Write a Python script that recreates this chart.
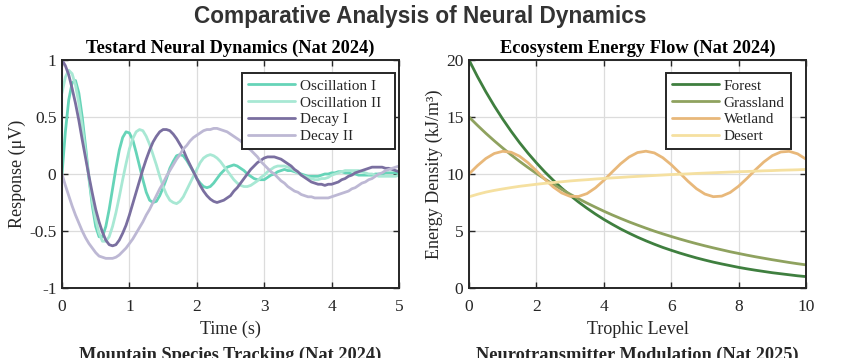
import numpy as np, pandas as pd, matplotlib
matplotlib.use('Agg')
import matplotlib.pyplot as plt, seaborn as sns

# ---------------- data ----------------
time_s = [0, .05, .1, .15, .2, .25, .3, .35, .4, .45, .5, .55, .6, .65, .7, .75, .8, .85, .9, .95,
          1, 1.05, 1.1, 1.15, 1.2, 1.25, 1.3, 1.35, 1.4, 1.45, 1.5, 1.55, 1.6, 1.65, 1.7, 1.75, 1.8, 1.85, 1.9, 1.95,
          2, 2.05, 2.1, 2.15, 2.2, 2.25, 2.3, 2.35, 2.4, 2.45, 2.5, 2.55, 2.6, 2.65, 2.7, 2.75, 2.8, 2.85, 2.9, 2.95,
          3, 3.05, 3.1, 3.15, 3.2, 3.25, 3.3, 3.35, 3.4, 3.45, 3.5, 3.55, 3.6, 3.65, 3.7, 3.75, 3.8, 3.85, 3.9, 3.95,
          4, 4.05, 4.1, 4.15, 4.2, 4.25, 4.3, 4.35, 4.4, 4.45, 4.5, 4.55, 4.6, 4.65, 4.7, 4.75, 4.8, 4.85, 4.9, 4.95,
          5]
oscillation_1 = [.00, .37, .65, .80, .82, .71, .50, .24, -.04, -.28, -.46, -.55, -.55, -.46, -.31, -.13, .05, .21, .32, .37,
                 .36, .30, .19, .07, -.05, -.16, -.23, -.25, -.24, -.19, -.12, -.04, .05, .11, .16, .17, .16, .12, .07, .02,
                 -.04, -.08, -.11, -.12, -.11, -.08, -.04, 0, .03, .06, .07, .08, .07, .05, .03, 0, -.02, -.04, -.05, -.05,
                 -.05, -.03, -.01, .00, .02, .03, .04, .03, .03, .02, .01, 0, -.01, -.02, -.02, -.02, -.02, -.01, 0, .00,
                 .01, .01, .02, .02, .01, .01, .00, 0, -.01, -.01, -.01, -.01, -.01, 0, 0, .00, .01, .01, .01, .01,
                 .01]
oscillation_2 = [.71, .85, .91, .88, .78, .62, .42, .19, -.03, -.24, -.40, -.52, -.59, -.59, -.55, -.46, -.34, -.20, -.05, .09,
                 .22, .31, .37, .39, .38, .33, .26, .17, .08, -.02, -.11, -.18, -.23, -.25, -.26, -.24, -.20, -.14, -.08, -.02,
                 .04, .10, .14, .16, .17, .16, .14, .11, .07, .03, -.01, -.05, -.08, -.10, -.11, -.11, -.10, -.08, -.06, -.03,
                 -.01, .02, .04, .06, .07, .07, .07, .06, .05, .03, .01, -.01, -.02, -.03, -.04, -.05, -.05, -.04, -.04, -.03,
                 -.01, 0, .01, .02, .03, .03, .03, .03, .03, .02, .01, .00, 0, -.01, -.02, -.02, -.02, -.02, -.02, -.02,
                 -.01]
decay_1 = [1.00, .95, .87, .75, .62, .47, .30, .14, -.02, -.17, -.31, -.42, -.51, -.58, -.62, -.63, -.62, -.58, -.52, -.45,
           -.36, -.26, -.16, -.06, .04, .13, .21, .28, .33, .37, .39, .39, .38, .35, .31, .26, .21, .14, .08, .02,
           -.04, -.10, -.15, -.19, -.22, -.24, -.25, -.24, -.23, -.21, -.19, -.15, -.12, -.08, -.04, 0, .04, .07, .10, .12,
           .14, .15, .15, .15, .14, .13, .11, .09, .07, .04, .02, -.01, -.03, -.05, -.07, -.08, -.09, -.09, -.10, -.09,
           -.09, -.08, -.07, -.05, -.04, -.02, -.01, .01, .02, .03, .04, .05, .06, .06, .06, .06, .05, .05, .04, .03,
           .02]
decay_2 = [0, -.10, -.19, -.28, -.36, -.43, -.50, -.56, -.61, -.65, -.69, -.72, -.73, -.74, -.74, -.74, -.73, -.71, -.68, -.65,
           -.61, -.57, -.52, -.47, -.42, -.36, -.31, -.25, -.19, -.13, -.08, -.02, .03, .08, .13, .17, .22, .25, .29, .32,
           .34, .36, .38, .39, .39, .40, .40, .39, .38, .37, .35, .33, .31, .29, .26, .23, .21, .18, .15, .11,
           .08, .05, .02, 0, -.03, -.06, -.08, -.11, -.13, -.15, -.16, -.18, -.19, -.20, -.20, -.21, -.21, -.21, -.21, -.21,
           -.20, -.19, -.18, -.17, -.16, -.15, -.13, -.12, -.10, -.08, -.07, -.05, -.04, -.02, 0, .01, .03, .04, .05, .06,
           .07]
neural_names = ['Oscillation I', 'Oscillation II', 'Decay I', 'Decay II']

trophic_level = [0, .25, .5, .75, 1, 1.25, 1.5, 1.75, 2, 2.25, 2.5, 2.75, 3, 3.25, 3.5, 3.75, 4, 4.25, 4.5, 4.75,
                 5, 5.25, 5.5, 5.75, 6, 6.25, 6.5, 6.75, 7, 7.25, 7.5, 7.75, 8, 8.25, 8.5, 8.75, 9, 9.25, 9.5, 9.75, 10]
forest = [20.00, 18.55, 17.21, 15.97, 14.82, 13.75, 12.75, 11.83, 10.98, 10.18, 9.45, 8.76, 8.13, 7.54, 7.00, 6.49, 6.02, 5.59, 5.18, 4.81,
          4.46, 4.14, 3.84, 3.56, 3.31, 3.07, 2.85, 2.64, 2.45, 2.27, 2.11, 1.96, 1.81, 1.68, 1.56, 1.45, 1.34, 1.25, 1.16, 1.07, 1.00]
grassland = [15.00, 14.27, 13.57, 12.91, 12.28, 11.68, 11.11, 10.57, 10.05, 9.56, 9.10, 8.65, 8.23, 7.83, 7.45, 7.09, 6.74, 6.41, 6.10, 5.80,
             5.52, 5.25, 4.99, 4.75, 4.52, 4.30, 4.09, 3.89, 3.70, 3.52, 3.35, 3.18, 3.03, 2.88, 2.74, 2.61, 2.48, 2.36, 2.24, 2.13, 2.03]
wetland = [10.00, 10.73, 11.36, 11.80, 11.99, 11.91, 11.56, 10.99, 10.28, 9.54, 8.86, 8.34, 8.04, 8.03, 8.28, 8.78, 9.44, 10.18, 10.90, 11.49,
           11.88, 12.00, 11.85, 11.43, 10.82, 10.10, 9.36, 8.71, 8.24, 8.01, 8.06, 8.38, 8.93, 9.62, 10.37, 11.06, 11.61, 11.93, 11.99, 11.77, 11.30]
desert = [8.00, 8.22, 8.41, 8.56, 8.69, 8.81, 8.92, 9.01, 9.10, 9.18, 9.25, 9.32, 9.39, 9.45, 9.50, 9.56, 9.61, 9.66, 9.70, 9.75,
          9.79, 9.83, 9.87, 9.91, 9.95, 9.98, 10.01, 10.05, 10.08, 10.11, 10.14, 10.17, 10.20, 10.22, 10.25, 10.28, 10.30, 10.33, 10.35, 10.37, 10.40]
eco_names = ['Forest', 'Grassland', 'Wetland', 'Desert']

neural_xticks = [0, 1, 2, 3, 4, 5]
neural_yticks = [-1, -0.5, 0, 0.5, 1]
eco_xticks = [0, 2, 4, 6, 8, 10]
eco_yticks = [0, 5, 10, 15, 20]

# ---------------- build tables ----------------
pad = '  '  # extra right padding inside the left legend
df1 = pd.concat([pd.DataFrame({'Time': time_s, 'Value': v, 'Series': n + pad})
                 for n, v in zip(neural_names, [oscillation_1, oscillation_2, decay_1, decay_2])])
df2 = pd.concat([pd.DataFrame({'Level': trophic_level, 'Value': v, 'Series': n})
                 for n, v in zip(eco_names, [forest, grassland, wetland, desert])])

sns.set_theme(style='white')
plt.rcParams['font.family'] = ['Liberation Serif', 'DejaVu Serif']
plt.rcParams['axes.unicode_minus'] = False

fig = plt.figure(figsize=(8.41, 3.58), dpi=100)
ax1 = fig.add_axes([62/841, 70/358, 337/841, 228/358])
ax2 = fig.add_axes([469/841, 70/358, 337/841, 228/358])

pal1 = ['#66d4b8', '#a8e8d4', '#7a6fa0', '#bdb8d4']
pal2 = ['#3f7f3f', '#8fa25f', '#e8b87a', '#f5e0a0']
sns.lineplot(data=df1, x='Time', y='Value', hue='Series', palette=pal1, linewidth=2, ax=ax1,
             estimator=None, sort=False)
sns.lineplot(data=df2, x='Level', y='Value', hue='Series', palette=pal2, linewidth=2, ax=ax2,
             estimator=None, sort=False)

dark = '#262626'
for ax, title, xl, yl, xlim, ylim, xt, yt, anchor in [
        (ax1, 'Testard Neural Dynamics (Nat 2024)', 'Time (s)', 'Response (μV)', (0, 5), (-1, 1),
         neural_xticks, neural_yticks, (0.988, 0.943)),
        (ax2, 'Ecosystem Energy Flow (Nat 2024)', 'Trophic Level', 'Energy Density (kJ/m³)', (0, 10), (0, 20),
         eco_xticks, eco_yticks, (0.955, 0.943))]:
    ax.set_xlim(*xlim); ax.set_ylim(*ylim)
    ax.set_xticks(xt); ax.set_yticks(yt)
    ax.set_yticklabels([f"{v:g}" for v in yt])
    ax.grid(True, color='#dcdcdc', linewidth=0.9)
    ax.set_axisbelow(True)
    for s in ax.spines.values():
        s.set_color(dark); s.set_linewidth(1.4)
    ax.tick_params(direction='in', length=4, width=1, top=True, right=True, bottom=True, left=True,
                   colors=dark, labelsize=12.5)
    ax.tick_params(axis='x', pad=8)
    ax.tick_params(axis='y', pad=4)
    ax.set_title(title, fontsize=13.2, fontweight='bold', pad=5, color='black')
    ax.set_xlabel(xl, fontsize=13, color=dark, labelpad=4)
    ax.set_ylabel(yl, fontsize=13, color=dark, labelpad=2)
    h, l = ax.get_legend_handles_labels()
    leg = ax.legend(h, l, loc='upper right', bbox_to_anchor=anchor, borderaxespad=0, fontsize=11,
                    frameon=True, fancybox=False, framealpha=1, edgecolor=dark, handlelength=3.1,
                    labelspacing=0.2, handletextpad=0.3, borderpad=0.4)
    leg.get_frame().set_linewidth(1.4)

fig.text(0.5, 1-16/358, 'Comparative Analysis of Neural Dynamics', ha='center', va='center',
         fontsize=16.3, fontweight='bold', family=['Liberation Sans'], color='#333333')
# titles of the lower row of panels, cut by the bottom edge as in the reference
fig.text(230.5/841, -1.5/358, 'Mountain Species Tracking (Nat 2024)', ha='center', va='baseline',
         fontsize=13.2, fontweight='bold')
fig.text(637.5/841, -1.5/358, 'Neurotransmitter Modulation (Nat 2025)', ha='center', va='baseline',
         fontsize=13.2, fontweight='bold')
fig.savefig('out.png', dpi=100)
